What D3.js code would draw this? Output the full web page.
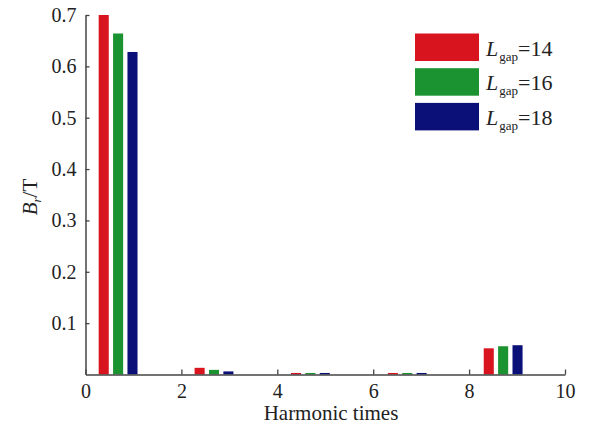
<!DOCTYPE html>
<html><head><meta charset="utf-8">
<script src="https://cdn.jsdelivr.net/npm/d3@7"></script>
<style>body{margin:0;background:#fff}svg{display:block}</style>
</head><body>
<svg id="c" width="595" height="431"></svg>
<script>
const harmonicPos = [0.68, 2.68, 4.69, 6.71, 8.71];
const seriesNames = ["14", "16", "18"];
const L14 = [0.700, 0.013, 0.003, 0.003, 0.051];
const L16 = [0.664, 0.009, 0.003, 0.003, 0.055];
const L18 = [0.628, 0.006, 0.003, 0.003, 0.057];
const colors = ["#d8141f", "#1c9331", "#0b0f78"];
const xTicks = [0, 2, 4, 6, 8, 10];
const yTicks = [0.1, 0.2, 0.3, 0.4, 0.5, 0.6, 0.7];
const series = [L14, L16, L18];

const svg = d3.select("#c");
const font = "'Liberation Serif','Times New Roman',serif";
const x = d3.scaleLinear().domain([0, 10]).range([85.5, 565]);
const y = d3.scaleLinear().domain([0, 0.7]).range([374.5, 15]);
const off = d3.scaleBand().domain([0,1,2]).range([-0.405, 0.405]).paddingInner(0.3);
const bw = x(off.bandwidth()) - x(0);

const g = svg.append("g");
series.forEach((s, si) => {
  g.selectAll(null).data(s).enter().append("rect")
    .attr("x", (d, i) => x(harmonicPos[i] + off(si)))
    .attr("width", bw)
    .attr("y", d => y(d))
    .attr("height", d => y(0) - y(d))
    .attr("fill", colors[si]);
});

// axes
const xa = svg.append("g").attr("transform", `translate(0,${y(0)})`)
  .call(d3.axisBottom(x).tickValues(xTicks).tickSizeInner(-5).tickSizeOuter(0).tickPadding(9));
const ya = svg.append("g").attr("transform", `translate(${x(0)},0)`)
  .call(d3.axisLeft(y).tickValues(yTicks).tickFormat(d3.format(".1f")).tickSizeInner(-4).tickSizeOuter(0).tickPadding(9));
[xa, ya].forEach(a => {
  a.select(".domain").attr("stroke", "#444").attr("stroke-width", 1.5);
  a.selectAll(".tick line").attr("stroke", "#444").attr("stroke-width", 1.3);
  a.selectAll("text").attr("font-family", font).attr("font-size", 20).attr("fill", "#222");
});

svg.append("text").attr("x", 331).attr("y", 420).attr("text-anchor", "middle")
  .attr("font-family", font).attr("font-size", 21).attr("fill", "#222").text("Harmonic times");

const yl = svg.append("text").attr("transform", "translate(37,197) rotate(-90)")
  .attr("text-anchor", "middle").attr("font-family", font).attr("font-size", 21).attr("fill", "#222");
yl.append("tspan").attr("font-style", "italic").text("B");
yl.append("tspan").attr("font-style", "italic").attr("font-size", 13).attr("dy", 4).text("r");
yl.append("tspan").attr("dy", -4).text("/T");

// legend
const lg = svg.append("g");
seriesNames.forEach((n, i) => {
  const yy = 33.5 + i * 34.7;
  lg.append("rect").attr("x", 415).attr("y", yy).attr("width", 64).attr("height", 27.5).attr("fill", colors[i]);
  const t = lg.append("text").attr("x", 486).attr("y", yy + 22).attr("font-family", font)
    .attr("font-size", 22).attr("fill", "#222");
  t.append("tspan").attr("font-style", "italic").text("L");
  t.append("tspan").attr("font-size", 13).attr("dy", 5).attr("dx", 1).text("gap");
  t.append("tspan").attr("dy", -5).text("=" + n);
});
</script>
</body></html>
